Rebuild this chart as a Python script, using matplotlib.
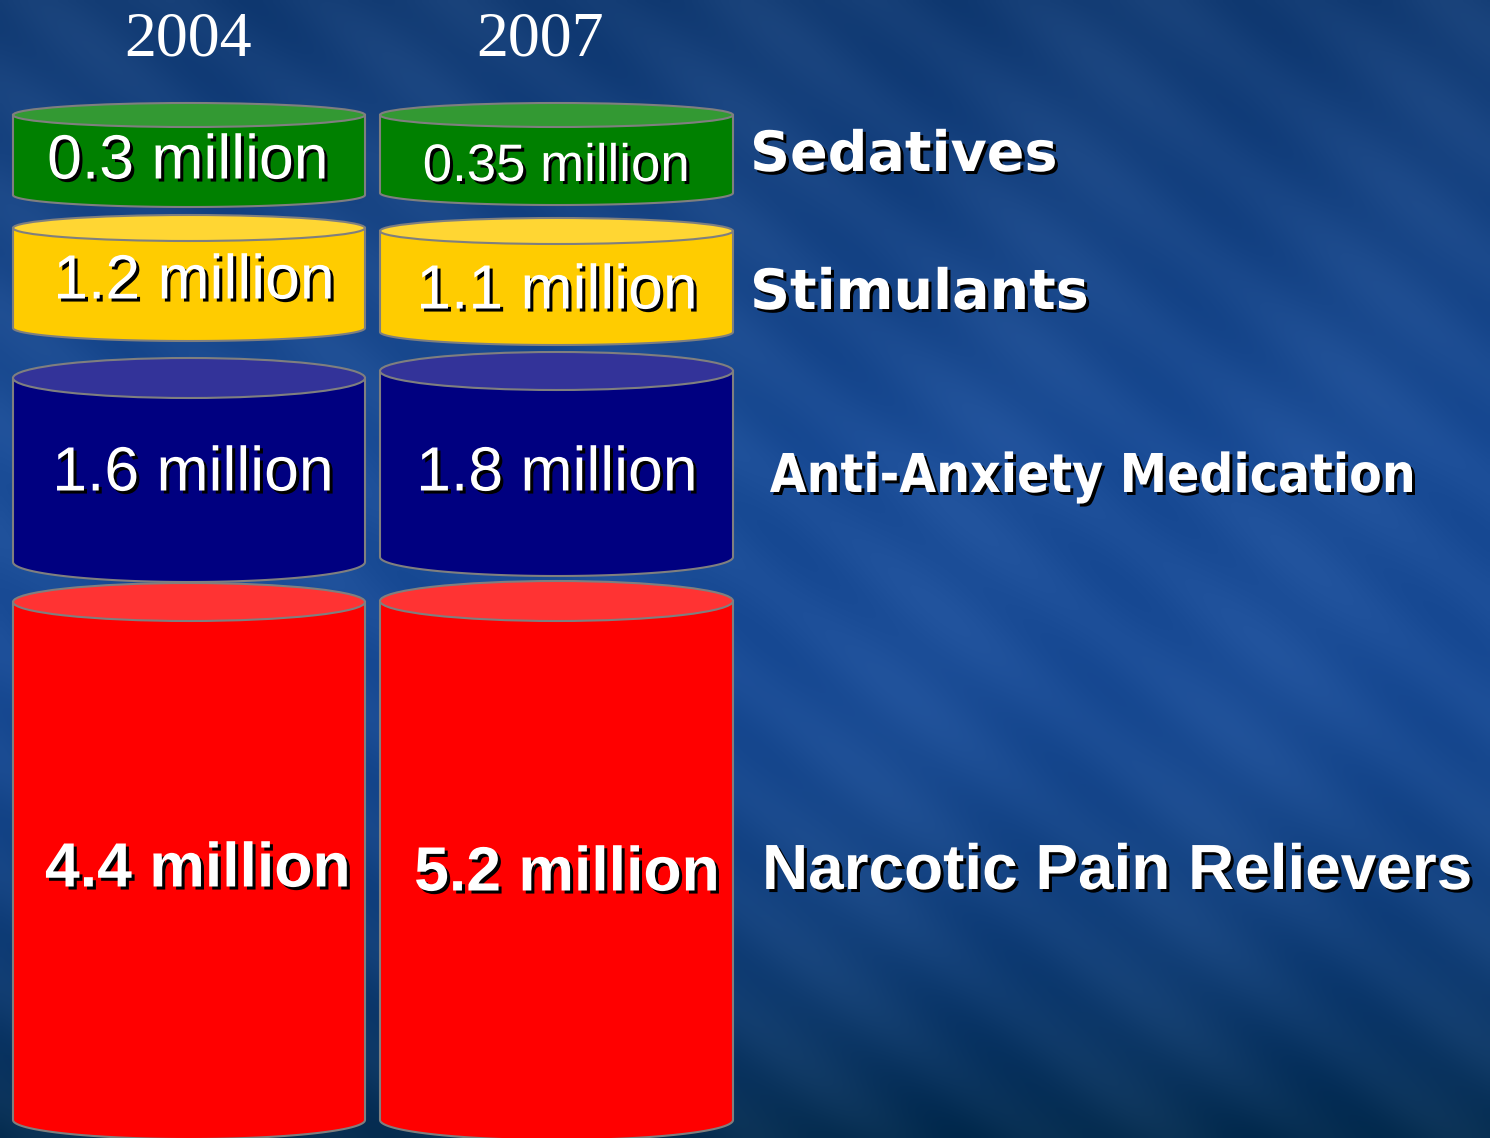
import numpy as np
import matplotlib
matplotlib.use("Agg")
import matplotlib.pyplot as plt
from matplotlib.patches import Polygon, Ellipse, PathPatch
from matplotlib.textpath import TextPath
from matplotlib.font_manager import FontProperties
from matplotlib.transforms import Affine2D
import matplotlib.patheffects as pe

# ---- data ----
years = ["2004", "2007"]
categories = ["Sedatives", "Stimulants", "Anti-Anxiety Medication", "Narcotic Pain Relievers"]
values_2004 = [0.3, 1.2, 1.6, 4.4]
values_2007 = [0.35, 1.1, 1.8, 5.2]
series = [values_2004, values_2007]

# ---- styling / layout ----
body_colors = ["#008000", "#FFCC00", "#000080", "#FF0000"]
top_colors = ["#339933", "#FFD633", "#333399", "#FF3333"]
col_x = [(13, 365), (380, 733)]
year_x = [188, 540]
# (top centre y, bottom centre y, ellipse half-height) per column, per row
geom = [
    [(115, 195, 12), (228, 328, 13), (378, 562, 20), (602, 1120, 19)],
    [(115, 193, 12), (231, 332, 13), (371, 557, 19), (601, 1120, 20)],
]
label_x = [[188, 194, 193, 198], [556, 557, 557, 567]]
label_y = [[162, 282, 474, 870], [167, 292, 474, 874]]
label_size = [[45, 45, 45, 45], [38, 45, 45, 45]]

W, H = 1490, 1138
fig = plt.figure(figsize=(W / 100, H / 100), dpi=100)
ax = fig.add_axes([0, 0, 1, 1])
ax.set_xlim(0, W)
ax.set_ylim(H, 0)
ax.axis("off")

# background gradient
yy, xx = np.mgrid[0:H:4, 0:W:4]
t = yy / H
top = np.array([0x14, 0x3D, 0x75]) / 255
mid = np.array([0x1C, 0x4E, 0x98]) / 255
bot = np.array([0x06, 0x2D, 0x50]) / 255
w_top = np.clip((0.4 - t) / 0.4, 0, 1)[..., None]
w_bot = np.clip((t - 0.55) / 0.45, 0, 1)[..., None] ** 1.8
w_mid = 1 - w_top - w_bot
img = w_top * top + w_mid * mid + w_bot * bot
streak = 0.012 * np.sin((xx * 0.8 - yy) / 18.0)[..., None] + 0.01 * np.sin((xx + yy * 0.3) / 55.0)[..., None]
img = np.clip(img + streak, 0, 1)
ax.imshow(img, extent=[0, W, H, 0], aspect="auto", zorder=0, interpolation="bilinear")

shadow = [pe.SimplePatchShadow(offset=(2.2, -2.2), shadow_rgbFace="black", alpha=1.0), pe.Normal()]


def cylinder(x0, x1, ytop, ybot, ry, body, topc):
    cx = (x0 + x1) / 2
    rx = (x1 - x0) / 2
    th = np.linspace(np.pi, 0, 80)
    arc = np.column_stack([cx + rx * np.cos(th), ybot + ry * np.sin(th)])
    pts = np.vstack([[x0, ytop], arc, [x1, ytop]])
    ax.add_patch(Polygon(pts, closed=True, facecolor=body, edgecolor="#7F7F7F", lw=1.5, zorder=2))
    ax.add_patch(Ellipse((cx, ytop), 2 * rx, 2 * ry, facecolor=topc, edgecolor="#7F7F7F", lw=1.5, zorder=3))


for c, vals in enumerate(series):
    x0, x1 = col_x[c]
    for r, v in enumerate(vals):
        ytop, ybot, ry = geom[c][r]
        cylinder(x0, x1, ytop, ybot, ry, body_colors[r], top_colors[r])
        ax.text(label_x[c][r], label_y[c][r], f"{v:g} million", color="white",
                fontsize=label_size[c][r], family="Liberation Sans",
                fontweight="bold" if r == 3 else "normal",
                ha="center", va="center", zorder=5, path_effects=shadow)
    ax.text(year_x[c], 55, years[c], color="white", fontsize=46,
            family="Liberation Serif", ha="center", va="baseline", zorder=5)

# category names
ax.text(750, 156, categories[0], color="white", fontsize=40, family="DejaVu Sans",
        fontweight="bold", ha="left", va="center", zorder=5, path_effects=shadow)
ax.text(750, 294, categories[1], color="white", fontsize=40, family="DejaVu Sans",
        fontweight="bold", ha="left", va="center", zorder=5, path_effects=shadow)
ax.text(762, 872, categories[3], color="white", fontsize=46, family="Liberation Sans",
        fontweight="bold", ha="left", va="center", zorder=5, path_effects=shadow)

# condensed bold label
tp = TextPath((0, 0), categories[2], size=100, prop=FontProperties(family="DejaVu Sans", weight="bold"))
bb = tp.get_extents()
sx = 642 / bb.width
sy = 39 / 72.9
for dx, col, z in [(3, "black", 4), (0, "white", 5)]:
    tr = Affine2D().translate(-bb.x0, 0).scale(sx, -sy).translate(770 + dx, 492 + dx)
    ax.add_patch(PathPatch(tr.transform_path(tp), facecolor=col, edgecolor="none", zorder=z))

fig.savefig("out.png", dpi=100)
